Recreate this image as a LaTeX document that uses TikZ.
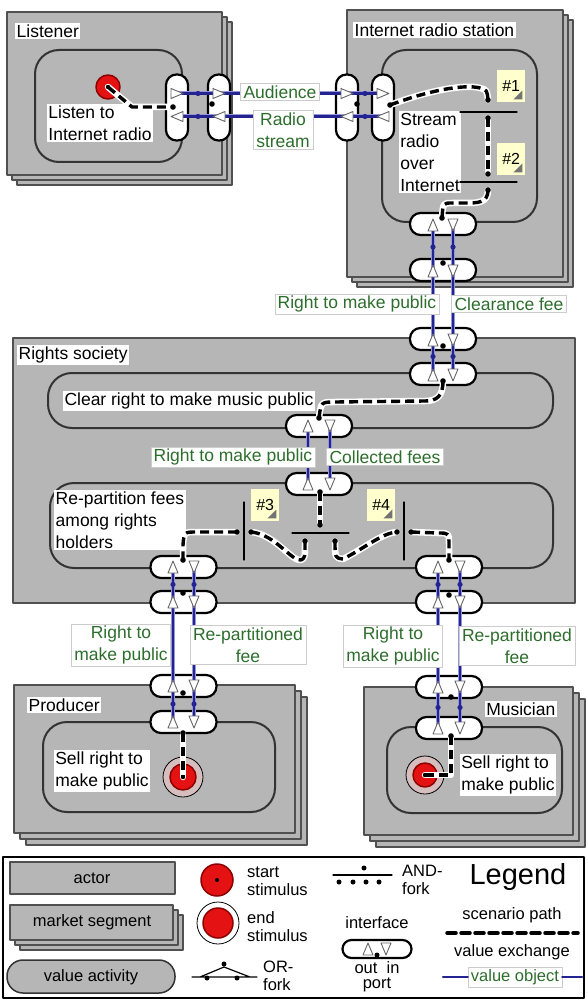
\documentclass[tikz,border=0pt]{standalone}
\usepackage{fontspec}
\setmainfont{Liberation Sans}
\usetikzlibrary{calc,positioning}
\definecolor{actgray}{RGB}{182,182,182}
\definecolor{actline}{RGB}{80,80,80}
\definecolor{vgreen}{RGB}{45,110,45}
\definecolor{vnavy}{RGB}{35,35,145}
\definecolor{vlight}{RGB}{150,150,215}
\definecolor{noteyel}{RGB}{255,255,205}
\definecolor{stimred}{RGB}{228,18,18}
\definecolor{ringgray}{RGB}{215,190,190}
% stacked actor (market segment): x1,y1,x2,y2,offset
\newcommand{\mseg}[5]{\foreach \k in {2,1,0}{\draw[actor] (#1+\k*#5,#2+\k*#5) rectangle (#3+\k*#5,#4+\k*#5);}}
% port triangles: node, dx, dy
\newcommand{\triU}[3]{\draw[trian] ([shift={(#2,#3)}]#1.center) ++(-5,6) -- ++(10,0) -- ++(-5,-12) -- cycle;}
\newcommand{\triD}[3]{\draw[trian] ([shift={(#2,#3)}]#1.center) ++(-5,-6) -- ++(10,0) -- ++(-5,12) -- cycle;}
\newcommand{\triR}[3]{\draw[trian] ([shift={(#2,#3)}]#1.center) ++(-6,-5) -- ++(0,10) -- ++(12,-5) -- cycle;}
\newcommand{\triL}[3]{\draw[trian] ([shift={(#2,#3)}]#1.center) ++(6,-5) -- ++(0,10) -- ++(-12,-5) -- cycle;}
\newcommand{\vmark}[4]{\fill[vnavy] ($(#1.center)!.5!(#2.center)+(#3,#4)$) circle (2.6);}
\newcommand{\foldmark}[1]{\fill[black!55] ([shift={(-3,-3)}]#1.south east) -- ++(-9,0) -- ++(9,-9) -- cycle;}
\begin{document}
\begin{tikzpicture}[x=1pt,y=-1pt,line join=round,line cap=round]
\tikzset{every node/.style={font=\fontsize{17.5}{22}\selectfont,inner sep=1.5pt},
 actor/.style={draw=actline,fill=actgray,line width=1.4pt},
 activity/.style={draw=black!80,fill=actgray,line width=2pt,rounded corners=24pt},
 hport/.style={draw=black,fill=white,line width=2.2pt,minimum width=66pt,minimum height=22pt,rounded corners=10.5pt,inner sep=0pt},
 vport/.style={hport,minimum width=22pt,minimum height=66pt},
 trian/.style={draw=black!60,fill=white,line width=0.9pt},
 vex/.style={draw=vnavy,line width=2.2pt,preaction={draw=vlight,line width=4pt}},
 vobj/.style={draw=black!20,fill=white,text=vgreen,align=center,inner xsep=3pt,inner ysep=2pt},
 aname/.style={fill=white,inner sep=1.5pt},
 tname/.style={fill=white,align=left,inner sep=1.5pt},
 scen/.style={line width=3.4pt,dash pattern=on 9pt off 5pt,line cap=butt,preaction={draw=white,line width=6.5pt,solid,line cap=round}},
 note/.style={fill=noteyel,minimum width=28pt,minimum height=32pt,inner sep=0pt,font=\fontsize{16}{18}\selectfont},
 fork/.style={line width=1.2pt},
 startstim/.style={circle,fill=stimred,draw=red!55!black,line width=1.5pt,minimum size=24pt,inner sep=0pt},
 endstim/.style={circle,fill=ringgray,draw=black,line width=0.8pt,minimum size=40pt,inner sep=0pt},
 lgtext/.style={font=\fontsize{16.5}{18}\selectfont,align=left,inner sep=1pt}}
\useasboundingbox (0,0) rectangle (587,1000);
\fill[white] (0,0) rectangle (587,1000);

% actors and value activities
\mseg{7}{12}{222}{175}{5}
\path (15,31) node[aname,anchor=west] (lName) {Listener};
\draw[activity] (35,50) rectangle (182,162);
\node[tname] (lAct) at (100,123) {Listen to\\Internet radio};

\mseg{347}{10}{563}{277}{5}
\node[aname,anchor=west] (rName) at (353,30) {Internet radio station};
\draw[activity] (382,50) rectangle (537,222);
\node[tname] (rAct) at (430,152) {Stream\\radio\\over\\Internet};

\draw[actor] (13,338) rectangle (575,603);
\node[aname,anchor=west] (sName) at (17,355) {Rights society};
\draw[activity] (48,373) rectangle (553,428);
\node[aname] (sAct1) at (189,401) {Clear right to make music public};
\draw[activity] (50,483) rectangle (553,568);
\node[tname,anchor=north west] (sAct2) at (54,490) {Re-partition fees\\among rights\\holders};

\mseg{14}{685}{295}{833}{6}
\node[aname,anchor=west] (pName) at (27,705) {Producer};
\draw[activity] (43,722) rectangle (275,812);
\node[tname] (pAct) at (102,771) {Sell right to\\make public};

\mseg{364}{687}{573}{835}{6}
\node[aname,anchor=east] (mName) at (557,709) {Musician};
\draw[activity] (387,727) rectangle (562,813);
\node[tname] (mAct) at (508,775) {Sell right to\\make public};

% interfaces
\node[vport] (lP1) at (177,107.5) {};
\node[vport] (lP2) at (219,107.5) {};
\node[vport] (rP1) at (347,107.5) {};
\node[vport] (rP2) at (383,107.5) {};
\node[hport] (rB1) at (443,224) {};
\node[hport] (rB2) at (443,270) {};
\node[hport] (sT1) at (443,339) {};
\node[hport] (sT2) at (443,374) {};
\node[hport] (sC1) at (319,426) {};
\node[hport] (sC2) at (319,484) {};
\node[hport] (sL1) at (183.5,567) {};
\node[hport] (sL2) at (183.5,602) {};
\node[hport] (sR1) at (449,567) {};
\node[hport] (sR2) at (449,602) {};
\node[hport] (pP1) at (183.5,686) {};
\node[hport] (pP2) at (183.5,722) {};
\node[hport] (mP1) at (449,687) {};
\node[hport] (mP2) at (449,728) {};

% value exchanges
\foreach \dy in {-14,9}{\draw[vex] ([shift={(0,\dy)}]lP1.center) -- ([shift={(0,\dy)}]rP2.center);}
\foreach \dx in {-10,10}{\draw[vex] ([shift={(\dx,0)}]rB1.center) -- ([shift={(\dx,0)}]sT2.center);}
\foreach \dx in {-11,11}{\draw[vex] ([shift={(\dx,0)}]sC1.center) -- ([shift={(\dx,0)}]sC2.center);}
\foreach \dx in {-10.5,10.5}{\draw[vex] ([shift={(\dx,0)}]sL1.center) -- ([shift={(\dx,0)}]pP2.center);}
\foreach \dx in {-11,11}{\draw[vex] ([shift={(\dx,0)}]sR1.center) -- ([shift={(\dx,0)}]mP2.center);}
\foreach \dy in {-14,9}{\vmark{lP1}{lP2}{0}{\dy}\vmark{rP1}{rP2}{0}{\dy}}
\foreach \dx in {-10,10}{\vmark{rB1}{rB2}{\dx}{0}\vmark{sT1}{sT2}{\dx}{0}}
\foreach \dx in {-10.5,10.5}{\vmark{sL1}{sL2}{\dx}{0}\vmark{pP1}{pP2}{\dx}{0}}
\foreach \dx in {-11,11}{\vmark{sR1}{sR2}{\dx}{0}\vmark{mP1}{mP2}{\dx}{0}}
\foreach \n in {lP1,lP2,rP1,rP2}{\triR{\n}{0}{-14}\triL{\n}{0}{9}}
\foreach \n in {rB1,rB2,sT1,sT2}{\triU{\n}{-10}{1}\triD{\n}{10}{1}}
\foreach \n in {sC1,sC2,sR1,sR2,mP1,mP2}{\triU{\n}{-11}{0}\triD{\n}{11}{0}}
\foreach \n in {sL1,sL2,pP1,pP2}{\triU{\n}{-10.5}{0}\triD{\n}{10.5}{0}}

\node[vobj] (vAud) at (280,92) {Audience};
\node[vobj] (vRad) at (283,130) {Radio\\stream};
\node[vobj] (vRmp1) at (357,304) {Right to make public};
\node[vobj] (vClr) at (509,304) {Clearance fee};
\node[vobj] (vRmp2) at (233,457) {Right to make public};
\node[vobj] (vCol) at (385,457) {Collected fees};
\node[vobj] (vRmp3) at (121,645) {Right to\\make public};
\node[vobj] (vRep1) at (248,645) {Re-partitioned\\fee};
\node[vobj] (vRmp4) at (393,646) {Right to\\make public};
\node[vobj] (vRep2) at (517,646) {Re-partitioned\\fee};

% forks and notes
\draw[fork] (460,112) -- (517,112) (460,182) -- (517,182);
\draw[fork] (244,502) -- (244,560) (404,502) -- (404,560) (292,533) -- (349,533);
\node[note,anchor=north west] (n1) at (497,70) {\#1};
\node[note,anchor=north west] (n2) at (497,143) {\#2};
\node[note,anchor=north west] (n3) at (251,489) {\#3};
\node[note,anchor=north west] (n4) at (367,489) {\#4};
\foreach \n in {n1,n2,n3,n4}{\foldmark{\n}}

% stimuli
\node[startstim] (lS) at (108,87) {};
\node[endstim] (pS) at (183,777) {};
\node[startstim,minimum size=26pt] (pSi) at (pS) {};
\node[endstim,minimum size=38pt] (mS) at (425,775) {};
\node[startstim] (mSi) at (mS) {};

% scenario paths
\coordinate (lD1) at (173,107); \coordinate (lD2) at (212,104);
\coordinate (rD1) at (357,104); \coordinate (rD2) at (390,105);
\coordinate (rD3) at (488,100); \coordinate (rD4) at (488,118);
\coordinate (rD5) at (488,174); \coordinate (rD6) at (488,190);
\coordinate (rD7) at (442,218); \coordinate (rD8) at (443,263);
\coordinate (sD1) at (443,346); \coordinate (sD2) at (443,381);
\coordinate (sD3) at (319,418); \coordinate (sD4) at (320,492);
\coordinate (sD5) at (320,525); \coordinate (sD6) at (305,541);
\coordinate (sD7) at (335,541); \coordinate (sD8) at (237,532);
\coordinate (sD9) at (251,532); \coordinate (sD10) at (397,532);
\coordinate (sD11) at (411,532); \coordinate (sD12) at (183,560);
\coordinate (sD13) at (183,593); \coordinate (sD14) at (449,560);
\coordinate (sD15) at (449,595);
\coordinate (pD1) at (183,693); \coordinate (pD2) at (183,733);
\coordinate (mD1) at (451,697); \coordinate (mD2) at (451,736);
\draw[scen] (lS.center) -- (132,107) -- (lD1);
\draw[scen] (rD2) .. controls (430,90) and (465,84) .. (480,88) .. controls (487,90) .. (rD3);
\draw[scen] (rD4) -- (rD5);
\draw[scen] (rD6) .. controls (488,203) and (478,203) .. (465,203) -- (452,203) .. controls (443,203) .. (rD7);
\draw[scen] (sD2) .. controls (443,396) and (437,401) .. (425,401) -- (335,402) .. controls (321,402) .. (sD3);
\draw[scen] (sD4) -- (sD5);
\draw[scen] (sD8) -- (197,532) .. controls (184,532) .. (183,545) -- (sD12);
\draw[scen] (sD9) .. controls (275,534) and (292,562) .. (301,560) .. controls (305,558) .. (sD6);
\draw[scen] (sD7) .. controls (335,558) .. (343,559) .. controls (365,548) and (382,533) .. (sD10);
\draw[scen] (sD11) -- (438,533) .. controls (449,533) .. (449,545) -- (sD14);
\draw[scen] (pD2) -- (pS.center);
\draw[scen] (mD2) -- (451,775) -- (mS.center);
\foreach \c in {lD1,lD2,rD1,rD2,rD3,rD4,rD5,rD6,rD7,rD8,sD1,sD2,sD3,sD4,sD5,sD6,sD7,sD8,sD9,sD10,sD11,sD12,sD13,sD14,sD15,pD1,pD2,mD1,mD2}{\fill (\c) circle (2.8);}
\foreach \s in {lS,pS,mS}{\fill (\s.center) circle (2.2);}

% legend
\draw[line width=1.5pt] (3,857) rectangle (584,998);
\draw[actor] (10,862) rectangle (175,894);
\node[lgtext] (lgActor) at (92,878) {actor};
\mseg{10}{905}{173}{940}{5}
\node[lgtext] (lgSeg) at (92,922) {market segment};
\draw[activity,rounded corners=16pt,line width=1.5pt] (7,960) rectangle (175,993);
\node[lgtext] (lgAct) at (91,977) {value activity};
\node[startstim,minimum size=32pt] (lgStart) at (217,880) {};
\fill (lgStart.center) circle (2);
\node[endstim,fill=white,minimum size=42pt] (lgEnd) at (218,923) {};
\node[startstim,minimum size=30pt] (lgEndi) at (lgEnd) {};
\node[lgtext,anchor=west] (lgStartT) at (246,881) {start\\stimulus};
\node[lgtext,anchor=west] (lgEndT) at (246,927) {end\\stimulus};
\draw[fork] (192,977) -- (257,977) (200,977) -- (224,967) -- (250,977);
\fill (224,964) circle (2.5) (207,978) circle (2.5) (237,978) circle (2.5);
\node[lgtext,anchor=west] (lgOrT) at (262,976) {OR-\\fork};
\draw[fork] (333,875) -- (392,875);
\fill (364,868) circle (2.5);
\foreach \x in {339,353,366,379}{\fill (\x,882) circle (2.5);}
\node[lgtext,anchor=west] (lgAndT) at (401,880) {AND-\\fork};
\node[font=\fontsize{29}{30}\selectfont] (lgTitle) at (518,877) {Legend};
\node[lgtext] (lgIfT) at (377,923) {interface};
\node[hport,minimum width=69pt,minimum height=18pt,rounded corners=9pt] (lgPort) at (377,949) {};
\triU{lgPort}{-9}{0}\triD{lgPort}{9}{0}
\fill ([shift={(0,6)}]lgPort.center) circle (2.5);
\node[lgtext] (lgOutIn) at (377,968) {out\ \ in};
\node[lgtext] (lgPortT) at (377,985) {port};
\node[lgtext] (lgScT) at (512,915) {scenario path};
\draw[line width=3.5pt,dash pattern=on 9pt off 5pt] (447,933) -- (578,933);
\node[lgtext] (lgVexT) at (512,952) {value exchange};
\node[vobj,font=\fontsize{16.5}{18}\selectfont] (lgVo) at (515,977) {value object};
\draw[vnavy,line width=2.5pt] (443,977) -- (lgVo.west) (lgVo.east) -- (582,977);
\end{tikzpicture}
\end{document}
